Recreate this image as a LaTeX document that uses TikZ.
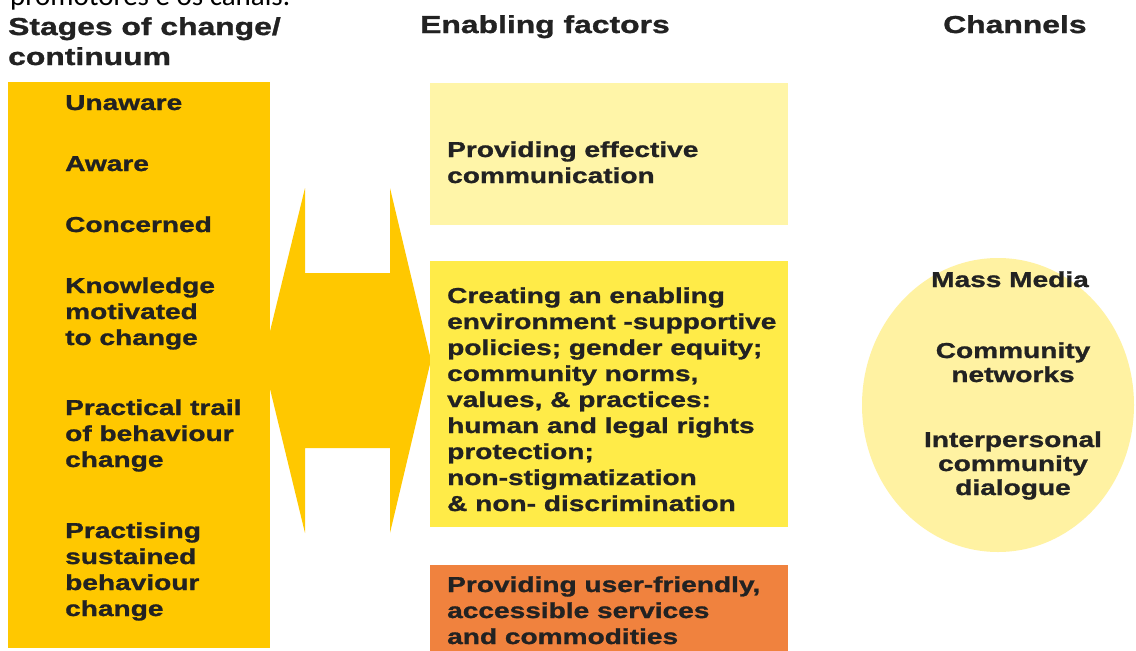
\documentclass[tikz,border=0pt]{standalone}
\usepackage{fontspec}
\usetikzlibrary{shapes.geometric}
\newfontfamily\dfont{Liberation Sans}[FakeStretch=1.3,FakeBold=1.2]
\newfontfamily\cfont{Carlito}
\definecolor{gold}{RGB}{255,200,0}
\definecolor{paleY}{RGB}{255,245,168}
\definecolor{midY}{RGB}{255,235,72}
\definecolor{orng}{RGB}{240,130,62}
\definecolor{ellY}{RGB}{255,242,162}
\definecolor{ink}{RGB}{34,34,34}
\tikzset{
  panel/.style={draw=none, inner sep=0pt, anchor=north west},
  lbl/.style={font=\dfont\bfseries\fontsize{21.6}{26}\selectfont, text=ink, align=left, inner sep=0pt, anchor=base west},
  hdr/.style={font=\dfont\bfseries\fontsize{24.5}{30}\selectfont, text=ink, align=left, inner sep=0pt, anchor=base west},
  clbl/.style={font=\dfont\bfseries\fontsize{21.6}{24}\selectfont, text=ink, align=center, inner sep=0pt, anchor=base},
}
\begin{document}
\begin{tikzpicture}[x=1pt,y=-1pt]
\useasboundingbox (0,0) rectangle (1136,651);
\clip (0,0) rectangle (1136,651);
\fill[white] (0,0) rectangle (1136,651);
% cut-off caption line
\node[font=\cfont\fontsize{29}{34}\selectfont, anchor=base west, inner sep=0pt, text=black] (cap) at (10,5) {promotores e os canais.};
% headers (base anchor = last line)
\node[hdr] (h1) at (8,65) {Stages of change/\\continuum};
\node[hdr] (h2) at (420,33) {Enabling factors};
\node[hdr] (h3) at (943,33) {Channels};
% double arrow
\fill[gold] (263,360) -- (305,188) -- (305,273) -- (390,273) -- (390,188) -- (431,360)
  -- (390,533) -- (390,448) -- (305,448) -- (305,533) -- cycle;
% left stages box
\node[panel, fill=gold, minimum width=262pt, minimum height=566pt] (stages) at (8,82) {};
\node[lbl] (s1) at (65,110) {Unaware};
\node[lbl] (s2) at (65,171) {Aware};
\node[lbl] (s3) at (65,232) {Concerned};
\node[lbl] (s4) at (65,345) {Knowledge\\motivated\\to change};
\node[lbl] (s5) at (65,467) {Practical trail\\of behaviour\\change};
\node[lbl] (s6) at (65,616) {Practising\\sustained\\behaviour\\change};
% enabling factor boxes
\node[panel, fill=paleY, minimum width=358pt, minimum height=142pt] (b1) at (430,83) {};
\node[panel, fill=midY, minimum width=358pt, minimum height=266pt] (b2) at (430,261) {};
\node[panel, fill=orng, minimum width=358pt, minimum height=120pt] (b3) at (430,565) {};
\node[lbl] (t1) at (447,183) {Providing effective\\communication};
\node[lbl] (t2) at (447,511) {Creating an enabling\\environment -supportive\\policies; gender equity;\\community norms,\\values, \& practices:\\human and legal rights\\protection;\\non-stigmatization\\\& non- discrimination};
\node[lbl] (t3) at (447,644) {Providing user-friendly,\\accessible services\\and commodities};
% channels ellipse
\node[ellipse, fill=ellY, minimum width=272pt, minimum height=294pt, inner sep=0pt] (chan) at (998,405) {};
\node[clbl] (c1) at (1010,287) {Mass Media};
\node[clbl] (c2) at (1013,382) {Community\\networks};
\node[clbl] (c3) at (1013,495) {Interpersonal\\community\\dialogue};
\end{tikzpicture}
\end{document}
